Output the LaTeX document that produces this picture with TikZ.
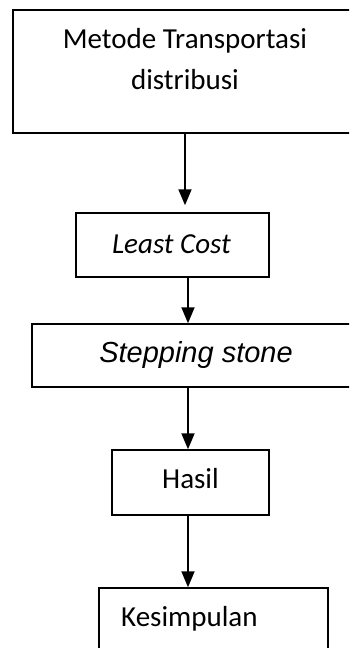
\documentclass[tikz,border=0pt]{standalone}
\usepackage{fontspec}
\setmainfont{Carlito}
\newfontfamily\arialfont{Liberation Sans}
\usetikzlibrary{arrows.meta}
\begin{document}
\begin{tikzpicture}[x=1pt,y=-1pt,
  box/.style={draw=black, line width=1.5pt, inner sep=0pt, rectangle},
  lbl/.style={inner sep=0pt, font=\fontsize{29}{34}\selectfont},
  flow/.style={line width=1.9pt, -{Triangle[length=16pt,width=13pt]}}]
  \useasboundingbox (0,0) rectangle (349,648);
  \clip (0,0) rectangle (349,648);
  \fill[white] (0,0) rectangle (349,648);

  % boxes of the flow
  \node[box, minimum width=344pt, minimum height=123pt] (b1) at (185,71.5) {};
  \node[box, minimum width=193pt, minimum height=64pt] (b2) at (172.5,245) {};
  \node[box, minimum width=328pt, minimum height=63pt] (b3) at (196,355.5) {};
  \node[box, minimum width=157pt, minimum height=65pt] (b4) at (190.5,482.5) {};
  \node[box, minimum width=229pt, minimum height=92pt] (b5) at (213.5,634) {};

  % labels
  \node[lbl, anchor=base] (t1a) at (185,48) {Metode Transportasi};
  \node[lbl, anchor=base] (t1b) at (185,89) {distribusi};
  \node[lbl, anchor=base] (t2) at (171.5,253) {\itshape Least Cost};
  \node[lbl, anchor=base, font=\arialfont\fontsize{29}{34}\selectfont\itshape] (t3) at (196,362) {Stepping stone};
  \node[lbl, anchor=base] (t4) at (190.5,488) {Hasil};
  \node[lbl, anchor=base west] (t5) at (121,626) {Kesimpulan};

  % connectors
  \coordinate (ax) at (188,0);
  \draw[flow, shorten >=7pt] (b1.south) -- (b1.south |- b2.north);
  \draw[flow] (b2.south -| ax) -- (b3.north -| ax);
  \draw[flow] (b3.south -| ax) -- (b4.north -| ax);
  \draw[flow] (b4.south -| ax) -- (b5.north -| ax);
\end{tikzpicture}
\end{document}
